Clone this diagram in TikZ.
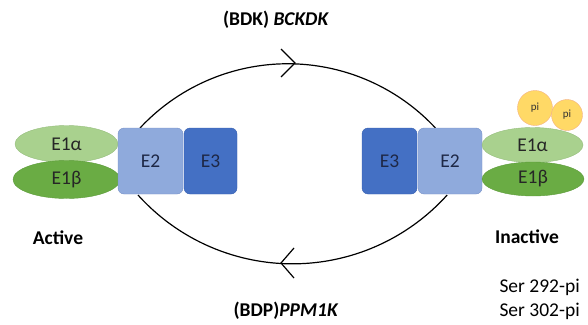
\documentclass[tikz,border=0pt]{standalone}
\usepackage{fontspec}
\setmainfont{Carlito}
\usetikzlibrary{shapes.geometric}
\begin{document}
\begin{tikzpicture}[x=1pt,y=1pt,
  lbl/.style={font=\fontsize{19.5}{22}\selectfont},
  bold/.style={font=\fontsize{19.5}{22}\selectfont\bfseries},
  sub/.style={ellipse, minimum width=101pt, inner sep=0pt, text=black!85, font=\fontsize{19.5}{22}\selectfont},
  sa/.style={sub, fill={rgb,255:red,169;green,209;blue,142}, draw={rgb,255:red,150;green,190;blue,125}},
  sb/.style={sub, fill={rgb,255:red,106;green,172;blue,68}, draw={rgb,255:red,92;green,155;blue,58}},
  blk/.style={rounded corners=6pt, inner sep=0pt, text={rgb,255:red,30;green,40;blue,70}, font=\fontsize{19.5}{22}\selectfont},
  etwo/.style={blk, fill={rgb,255:red,143;green,170;blue,220}, draw={rgb,255:red,120;green,145;blue,200}},
  ethree/.style={blk, fill={rgb,255:red,68;green,112;blue,196}, draw={rgb,255:red,55;green,95;blue,175}},
  phos/.style={circle, fill={rgb,255:red,255;green,217;blue,102}, draw={rgb,255:red,244;green,177;blue,131}, inner sep=0pt, text=black!80, font=\fontsize{11}{12}\selectfont},
  cyc/.style={line width=1.2pt, black}
]
\useasboundingbox (0,0) rectangle (588,-324);

% reaction cycle
\coordinate (tl) at (140,-128);
\coordinate (bl) at (138,-195);
\coordinate (tipT) at (295,-63);
\coordinate (tipB) at (281,-263);
\draw[cyc] (tl) arc[start angle=137, end angle=43, radius=202pt];
\draw[cyc] (bl) arc[start angle=222, end angle=318, radius=208pt];
\draw[cyc] (tipT) ++(-14,14) -- (tipT) -- ++(-14,-14);
\draw[cyc] (tipB) ++(13,15) -- (tipB) -- ++(13,-15);

% active complex
\node[sa, minimum height=37pt, minimum width=103pt] (a1) at (66.5,-144) {E1α};
\node[sb, minimum height=38pt, minimum width=107pt] (b1) at (66.5,-179.5) {E1β};
\node[etwo, minimum width=65pt, minimum height=66pt] (c1) at (150.5,-161) {E2};
\node[ethree, minimum width=53pt, minimum height=66pt] (d1) at (210.5,-161) {E3};

% inactive complex
\node[ethree, minimum width=55pt, minimum height=66pt] (d2) at (389.5,-161) {E3};
\node[etwo, minimum width=64pt, minimum height=66pt] (c2) at (450,-161) {E2};
\node[sa, minimum height=35pt] (a2) at (532.5,-145) {E1α};
\node[sb, minimum height=34pt, minimum width=102pt] (b2) at (533,-179) {E1β};
\node[phos, minimum size=35pt] (p1) at (535,-108) {pi};
\node[phos, minimum size=31pt] (p2) at (567,-115) {pi};

% labels
\node[bold] (kin) at (276,-20) {(BDK) \textit{BCKDK}};
\node[bold] (pho) at (286,-311) {(BDP)\textit{PPM1K}};
\node[bold] (act) at (58,-238) {Active};
\node[bold] (ina) at (527,-237) {Inactive};
\node[lbl, anchor=west] (s1) at (496,-287) {Ser 292-pi};
\node[lbl, anchor=west] (s2) at (496,-311) {Ser 302-pi};
\end{tikzpicture}
\end{document}
